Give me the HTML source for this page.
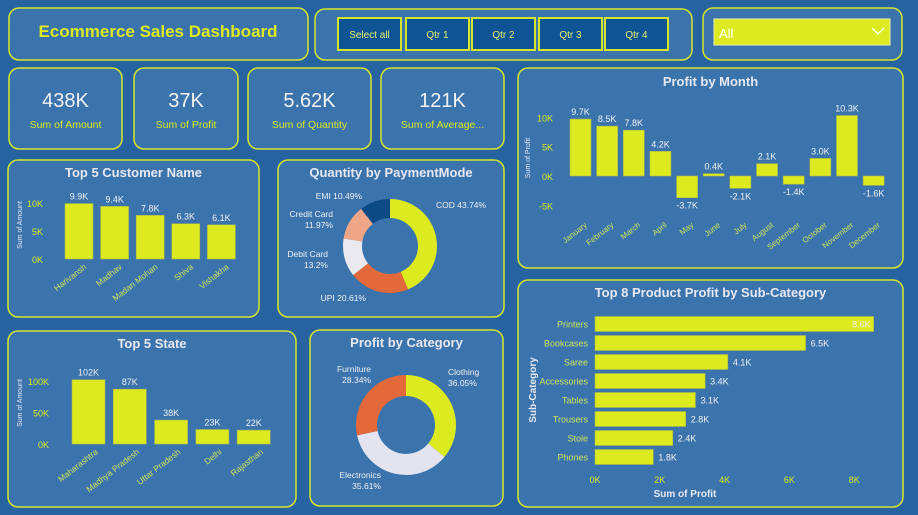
<!DOCTYPE html>
<html><head><meta charset="utf-8">
<style>
html,body{margin:0;padding:0;background:#2763a1;}
svg{display:block;font-family:"Liberation Sans",sans-serif;}
</style></head>
<body>
<svg id="dash" width="918" height="515" viewBox="0 0 918 515" xmlns="http://www.w3.org/2000/svg">
<rect x="0" y="0" width="918" height="515" fill="#2763a1"/>
<g id="static">
  <rect x="9" y="8" width="299" height="52" rx="10" fill="#3b74ad" stroke="#d5e62a" stroke-width="1.5"/>
  <text x="158" y="37" text-anchor="middle" font-size="17" font-weight="bold" fill="#dcea1f">Ecommerce Sales Dashboard</text>
  <rect x="315" y="9" width="377" height="51" rx="10" fill="#3b74ad" stroke="#d5e62a" stroke-width="1.5"/>
  <rect x="703" y="8" width="199" height="52" rx="10" fill="#3b74ad" stroke="#d5e62a" stroke-width="1.5"/>
  <rect x="714" y="19" width="176" height="26" fill="#dcea1f" stroke="#eef2a0" stroke-width="1"/>
  <text x="719" y="38" font-size="13" fill="#ffffff">All</text>
  <path d="M872 28 L878 34 L884 28" fill="none" stroke="#ffffff" stroke-width="1.3"/>
</g>
<g id="dyn"></g>
</svg>
<script>
const NS="http://www.w3.org/2000/svg";
const root=document.getElementById('dyn');
function el(tag,attrs,parent,txt){const e=document.createElementNS(NS,tag);for(const k in attrs)e.setAttribute(k,attrs[k]);if(txt!==undefined)e.textContent=txt;(parent||root).appendChild(e);return e;}
const Y="#dcea1f", BORDER="#d5e62a", PANEL="#3b74ad", LBL="#cfe35a";

// ---- data ----
const quarterButtons=["Select all","Qtr 1","Qtr 2","Qtr 3","Qtr 4"];
const kpiValues=["438K","37K","5.62K","121K"];
const kpiLabels=["Sum of Amount","Sum of Profit","Sum of Quantity","Sum of Average..."];
const customerNames=["Harivansh","Madhav","Madan Mohan","Shiva","Vishakha"];
const customerAmounts=[9.9,9.4,7.8,6.3,6.1];
const customerTicks=[0,5,10];
const paymentModes=["COD","UPI","Debit Card","Credit Card","EMI"];
const paymentShares=[43.74,20.61,13.2,11.97,10.49];
const stateNames=["Maharashtra","Madhya Pradesh","Uttar Pradesh","Delhi","Rajasthan"];
const stateAmounts=[102,87,38,23,22];
const stateTicks=[0,50,100];
const categoryNames=["Clothing","Electronics","Furniture"];
const categoryShares=[36.05,35.61,28.34];
const months=["January","February","March","April","May","June","July","August","September","October","November","December"];
const monthProfit=[9.7,8.5,7.8,4.2,-3.7,0.4,-2.1,2.1,-1.4,3.0,10.3,-1.6];
const monthTicks=[-5,0,5,10];
const subCats=["Printers","Bookcases","Saree","Accessories","Tables","Trousers","Stole","Phones"];
const subProfit=[8.6,6.5,4.1,3.4,3.1,2.8,2.4,1.8];
const subTicks=[0,2,4,6,8];

// ---- quarter buttons ----
const qx=[338,406,472,539,605];
quarterButtons.forEach((b,i)=>{
  const r=el('rect',{x:qx[i],y:18,width:63,height:32,fill:"#0f5596",stroke:BORDER,"stroke-width":2});
  
  
  const t=el('text',{x:qx[i]+31.5,y:38,"text-anchor":"middle","font-size":10,fill:"#e8f06a"},root,b);
  
  
});

// ---- KPI cards ----
const kx=[[9,122],[134,238],[248,371],[381,504]];
kpiValues.forEach((v,i)=>{
  const [a,b]=kx[i];
  const r=el('rect',{x:a,y:68,width:b-a,height:81,rx:10,fill:PANEL,stroke:BORDER,"stroke-width":1.5});
  
  
  const t=el('text',{x:(a+b)/2,y:107,"text-anchor":"middle","font-size":20,fill:"#f2f2f2"},root,v);
  
  
  const l=el('text',{x:(a+b)/2,y:128,"text-anchor":"middle","font-size":10.5,fill:Y},root,kpiLabels[i]);
  
  
});

function panel(x,y,w,h,title,name,ty){
  const r=el('rect',{x:x,y:y,width:w,height:h,rx:10,fill:PANEL,stroke:BORDER,"stroke-width":1.5});
  
  
  const t=el('text',{x:x+w/2,y:ty,"text-anchor":"middle","font-size":13,"font-weight":"bold",fill:"#e8e8f0"},root,title);
  
  
}

// ---- vertical bar chart helper ----
function vbars(cats,vals,ticks,opt){
  const y=v=>opt.y0-(v-opt.vmin)*opt.ppu;
  ticks.forEach(t=>{
    const e=el('text',{x:opt.tickX,y:y(t)+4,"text-anchor":"end","font-size":9,fill:Y},root,t+"K");
    
    
  });
  const at=el('text',{x:0,y:0,"font-size":7,fill:"#e8e8f0","text-anchor":"middle",transform:`translate(${opt.titleX},${opt.titleY}) rotate(-90)`},root,opt.yTitle);
  
  
  const base=y(0);
  cats.forEach((c,i)=>{
    const cx=opt.x0+i*opt.step;
    const v=vals[i];
    const top=Math.min(y(v),base), h=Math.abs(y(v)-base);
    const b=el('rect',{x:cx-opt.bw/2,y:top,width:opt.bw,height:Math.max(h,1),fill:Y,stroke:"#a8b84a","stroke-width":0.6});
    
    
    const ly=v>=0?top-4:top+h+11;
    const lbl=opt.fmt(v);
    const vt=el('text',{x:cx,y:ly,"text-anchor":"middle","font-size":9,fill:"#f0f0f0"},root,lbl);
    
    
    const ct=el('text',{x:0,y:0,"text-anchor":"end","font-size":opt.catSize,fill:LBL,transform:`translate(${cx+opt.catDx},${opt.catY}) rotate(-38)`},root,c);
    
    
  });
}

// Top 5 Customer
panel(8,160,251,157,"Top 5 Customer Name","top-customers-panel",177);
vbars(customerNames,customerAmounts,customerTicks,{y0:259,vmin:0,ppu:5.6,x0:79,step:35.6,bw:28,tickX:43,titleX:22,titleY:225,yTitle:"Sum of Amount",fmt:v=>v.toFixed(1)+"K",catY:268,catDx:8,catSize:8.5});

// Top 5 State
panel(8,331,288,176,"Top 5 State","top-states-panel",348);
vbars(stateNames,stateAmounts,stateTicks,{y0:444,vmin:0,ppu:0.63,x0:88.5,step:41.3,bw:33,tickX:49,titleX:22,titleY:403,yTitle:"Sum of Amount",fmt:v=>v+"K",catY:453,catDx:10,catSize:8.5});

// Profit by Month
panel(518,68,385,200,"Profit by Month","profit-by-month-panel",86);
vbars(months,monthProfit,monthTicks,{y0:176,vmin:0,ppu:5.87,x0:580.5,step:26.65,bw:21,tickX:553,titleX:530,titleY:158,yTitle:"Sum of Profit",fmt:v=>v.toFixed(1)+"K",catY:226,catDx:7,catSize:8});

// ---- donut helper ----
function donut(names,shares,colors,cx,cy,ro,ri,labels,prefix){
  const tot=shares.reduce((a,b)=>a+b,0);
  let a0=-Math.PI/2;
  names.forEach((n,i)=>{
    const a1=a0+shares[i]/tot*2*Math.PI;
    const p=(a,r)=>[cx+r*Math.cos(a),cy+r*Math.sin(a)];
    const large=(a1-a0)>Math.PI?1:0;
    const [x1,y1]=p(a0,ro),[x2,y2]=p(a1,ro),[x3,y3]=p(a1,ri),[x4,y4]=p(a0,ri);
    const s=el('path',{d:`M${x1} ${y1} A${ro} ${ro} 0 ${large} 1 ${x2} ${y2} L${x3} ${y3} A${ri} ${ri} 0 ${large} 0 ${x4} ${y4} Z`,fill:colors[i]});
    
    
    const L=labels[i];
    L.lines.forEach((ln,j)=>{
      const txt=ln.replace('{n}',n).replace('{p}',shares[i]+'%');
      const t=el('text',{x:L.x,y:L.y+j*11,"text-anchor":L.anchor,"font-size":8.5,fill:"#f0f0f0"},root,txt);
      
      
    });
    a0=a1;
  });
}
panel(278,160,226,157,"Quantity by PaymentMode","payment-mode-panel",177);
donut(paymentModes,paymentShares,["#dcea1f","#e4693a","#e9e9ee","#efa686","#0d4a84"],390,246,47,28,
 [{x:436,y:208,anchor:"start",lines:["{n} {p}"]},
  {x:366,y:301,anchor:"end",lines:["{n} {p}"]},
  {x:328,y:257,anchor:"end",lines:["{n}","{p}"]},
  {x:333,y:217,anchor:"end",lines:["{n}","{p}"]},
  {x:362,y:199,anchor:"end",lines:["{n} {p}"]}],"payment");

panel(310,330,193,176,"Profit by Category","profit-by-category-panel",347);
donut(categoryNames,categoryShares,["#dcea1f","#e3e4ef","#e4693a"],406,425,50,29,
 [{x:448,y:375,anchor:"start",lines:["{n}","{p}"]},
  {x:381,y:478,anchor:"end",lines:["{n}","{p}"]},
  {x:371,y:372,anchor:"end",lines:["{n}","{p}"]}],"category");

// ---- horizontal bars ----
panel(518,280,385,227,"Top 8 Product Profit by Sub-Category","sub-category-panel",297);
const hx=v=>595+v*32.4;
subTicks.forEach(t=>{
  const e=el('text',{x:hx(t),y:483,"text-anchor":"middle","font-size":9,fill:Y},root,t+"K");
  
  
});
const xt=el('text',{x:685,y:497,"text-anchor":"middle","font-size":10,"font-weight":"bold",fill:"#e8e8f0"},root,"Sum of Profit");


const yt=el('text',{x:0,y:0,"text-anchor":"middle","font-size":10,"font-weight":"bold",fill:"#e8e8f0",transform:"translate(536,390) rotate(-90)"},root,"Sub-Category");


subCats.forEach((c,i)=>{
  const cy=324+i*19;
  const w=hx(subProfit[i])-hx(0);
  const b=el('rect',{x:hx(0),y:cy-7.5,width:w,height:15,fill:Y,stroke:"#a8b84a","stroke-width":0.6});
  
  
  const l=el('text',{x:588,y:cy+3.5,"text-anchor":"end","font-size":9,fill:LBL},root,c);
  
  
  const inside=i===0;
  const v=el('text',{x:inside?hx(subProfit[i])-3:hx(subProfit[i])+5,y:cy+3.5,"text-anchor":inside?"end":"start","font-size":9,fill:"#f0f0f0"},root,subProfit[i].toFixed(1)+"K");
  
  
});
</script>
</body></html>
